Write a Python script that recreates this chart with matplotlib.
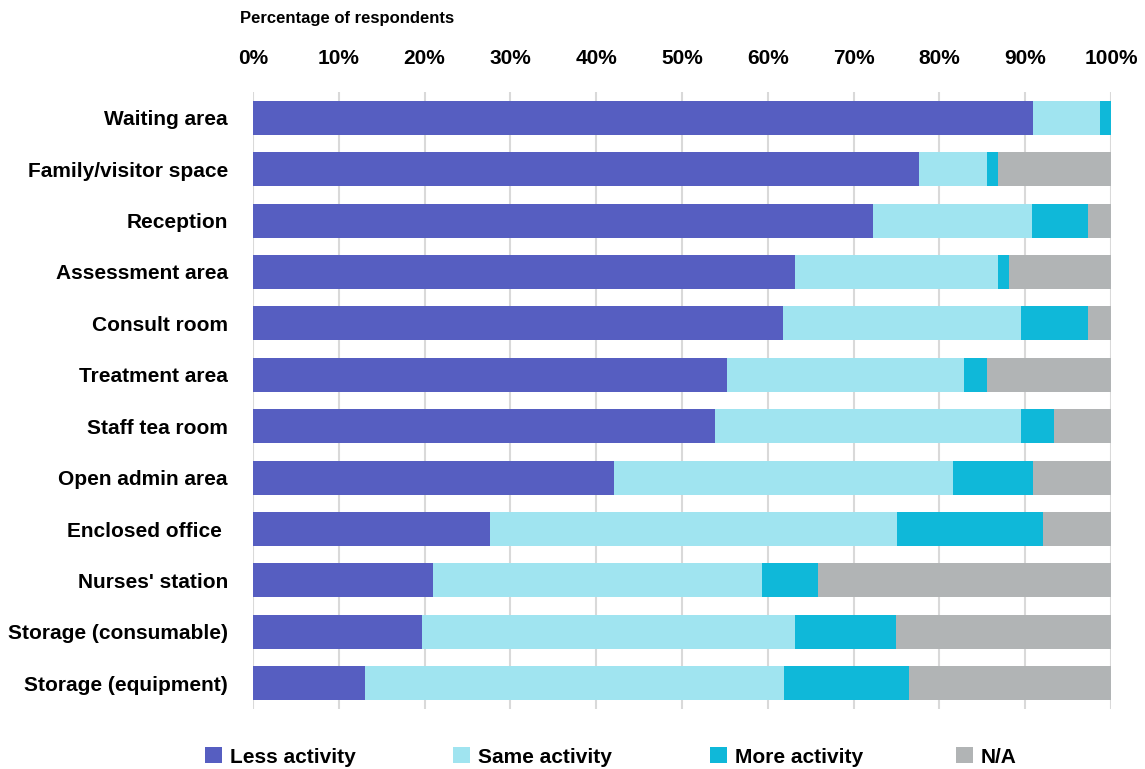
import matplotlib
matplotlib.use("Agg")
import matplotlib.pyplot as plt
from matplotlib.patches import Patch
import numpy as np

categories = ["Waiting area", "Family/visitor space", "Reception", "Assessment area",
              "Consult room", "Treatment area", "Staff tea room", "Open admin area",
              "Enclosed office ", "Nurses' station", "Storage (consumable)", "Storage (equipment)"]
less_activity = [90.9, 77.6, 72.3, 63.2, 61.8, 55.2, 53.9, 42.1, 27.6, 21.0, 19.7, 13.1]
same_activity = [7.8, 7.9, 18.5, 23.6, 27.7, 27.7, 35.6, 39.5, 47.5, 38.3, 43.5, 48.8]
more_activity = [1.3, 1.3, 6.5, 1.3, 7.8, 2.6, 3.9, 9.3, 17.0, 6.5, 11.8, 14.5]
na_values = [0.0, 13.2, 2.7, 11.9, 2.7, 14.5, 6.6, 9.1, 7.9, 34.2, 25.0, 23.6]
series_names = ["Less activity", "Same activity", "More activity", "N/A"]
colors = ["#565EC1", "#A0E4F0", "#0FB8D9", "#B1B4B5"]
xticks = list(range(0, 101, 10))

plt.rcParams['font.family'] = ['Liberation Sans', 'DejaVu Sans']
plt.rcParams['font.weight'] = 'bold'

fig = plt.figure(figsize=(11.45, 7.69), dpi=100)
ax = fig.add_axes([253/1145, 1-709/769, (1111-253)/1145, (709-92)/769])

y = np.arange(len(categories))
left = np.zeros(len(categories))
series = [less_activity, same_activity, more_activity, na_values]
for name, vals, c in zip(series_names, series, colors):
    ax.barh(y, vals, left=left, height=0.66, color=c, label=name, zorder=3)
    left = left + np.array(vals)

ax.set_ylim(len(categories)-0.5, -0.5)
ax.set_xlim(0, 100)
ax.set_xticks(xticks)
ax.set_xticklabels([f"{t}%" for t in xticks], fontsize=15, fontweight='bold')
ax.xaxis.tick_top()
ax.tick_params(axis='x', length=0, pad=17)
ax.set_yticks(y)
ax.set_yticklabels(categories, fontsize=15, fontweight='bold')
ax.tick_params(axis='y', length=0, pad=18)
ax.grid(axis='x', color='#D9D9D9', linewidth=1.5, zorder=0)
for s in ax.spines.values():
    s.set_visible(False)

fig.text(240/1145, 1-19/769, "Percentage of respondents", fontsize=12, fontweight='bold',
         ha='left', va='center')

legend_x = [205, 453, 710, 956]
for name, c, lx in zip(series_names, colors, legend_x):
    fig.legend(handles=[Patch(facecolor=c, label=name)], loc='center left',
               bbox_to_anchor=(lx/1145, 1-757/769), frameon=False,
               handlelength=0.8, handleheight=0.8, handletextpad=0.4,
               borderpad=0, borderaxespad=0,
               prop={'weight': 'bold', 'size': 15})

fig.savefig("out.png", dpi=100)
